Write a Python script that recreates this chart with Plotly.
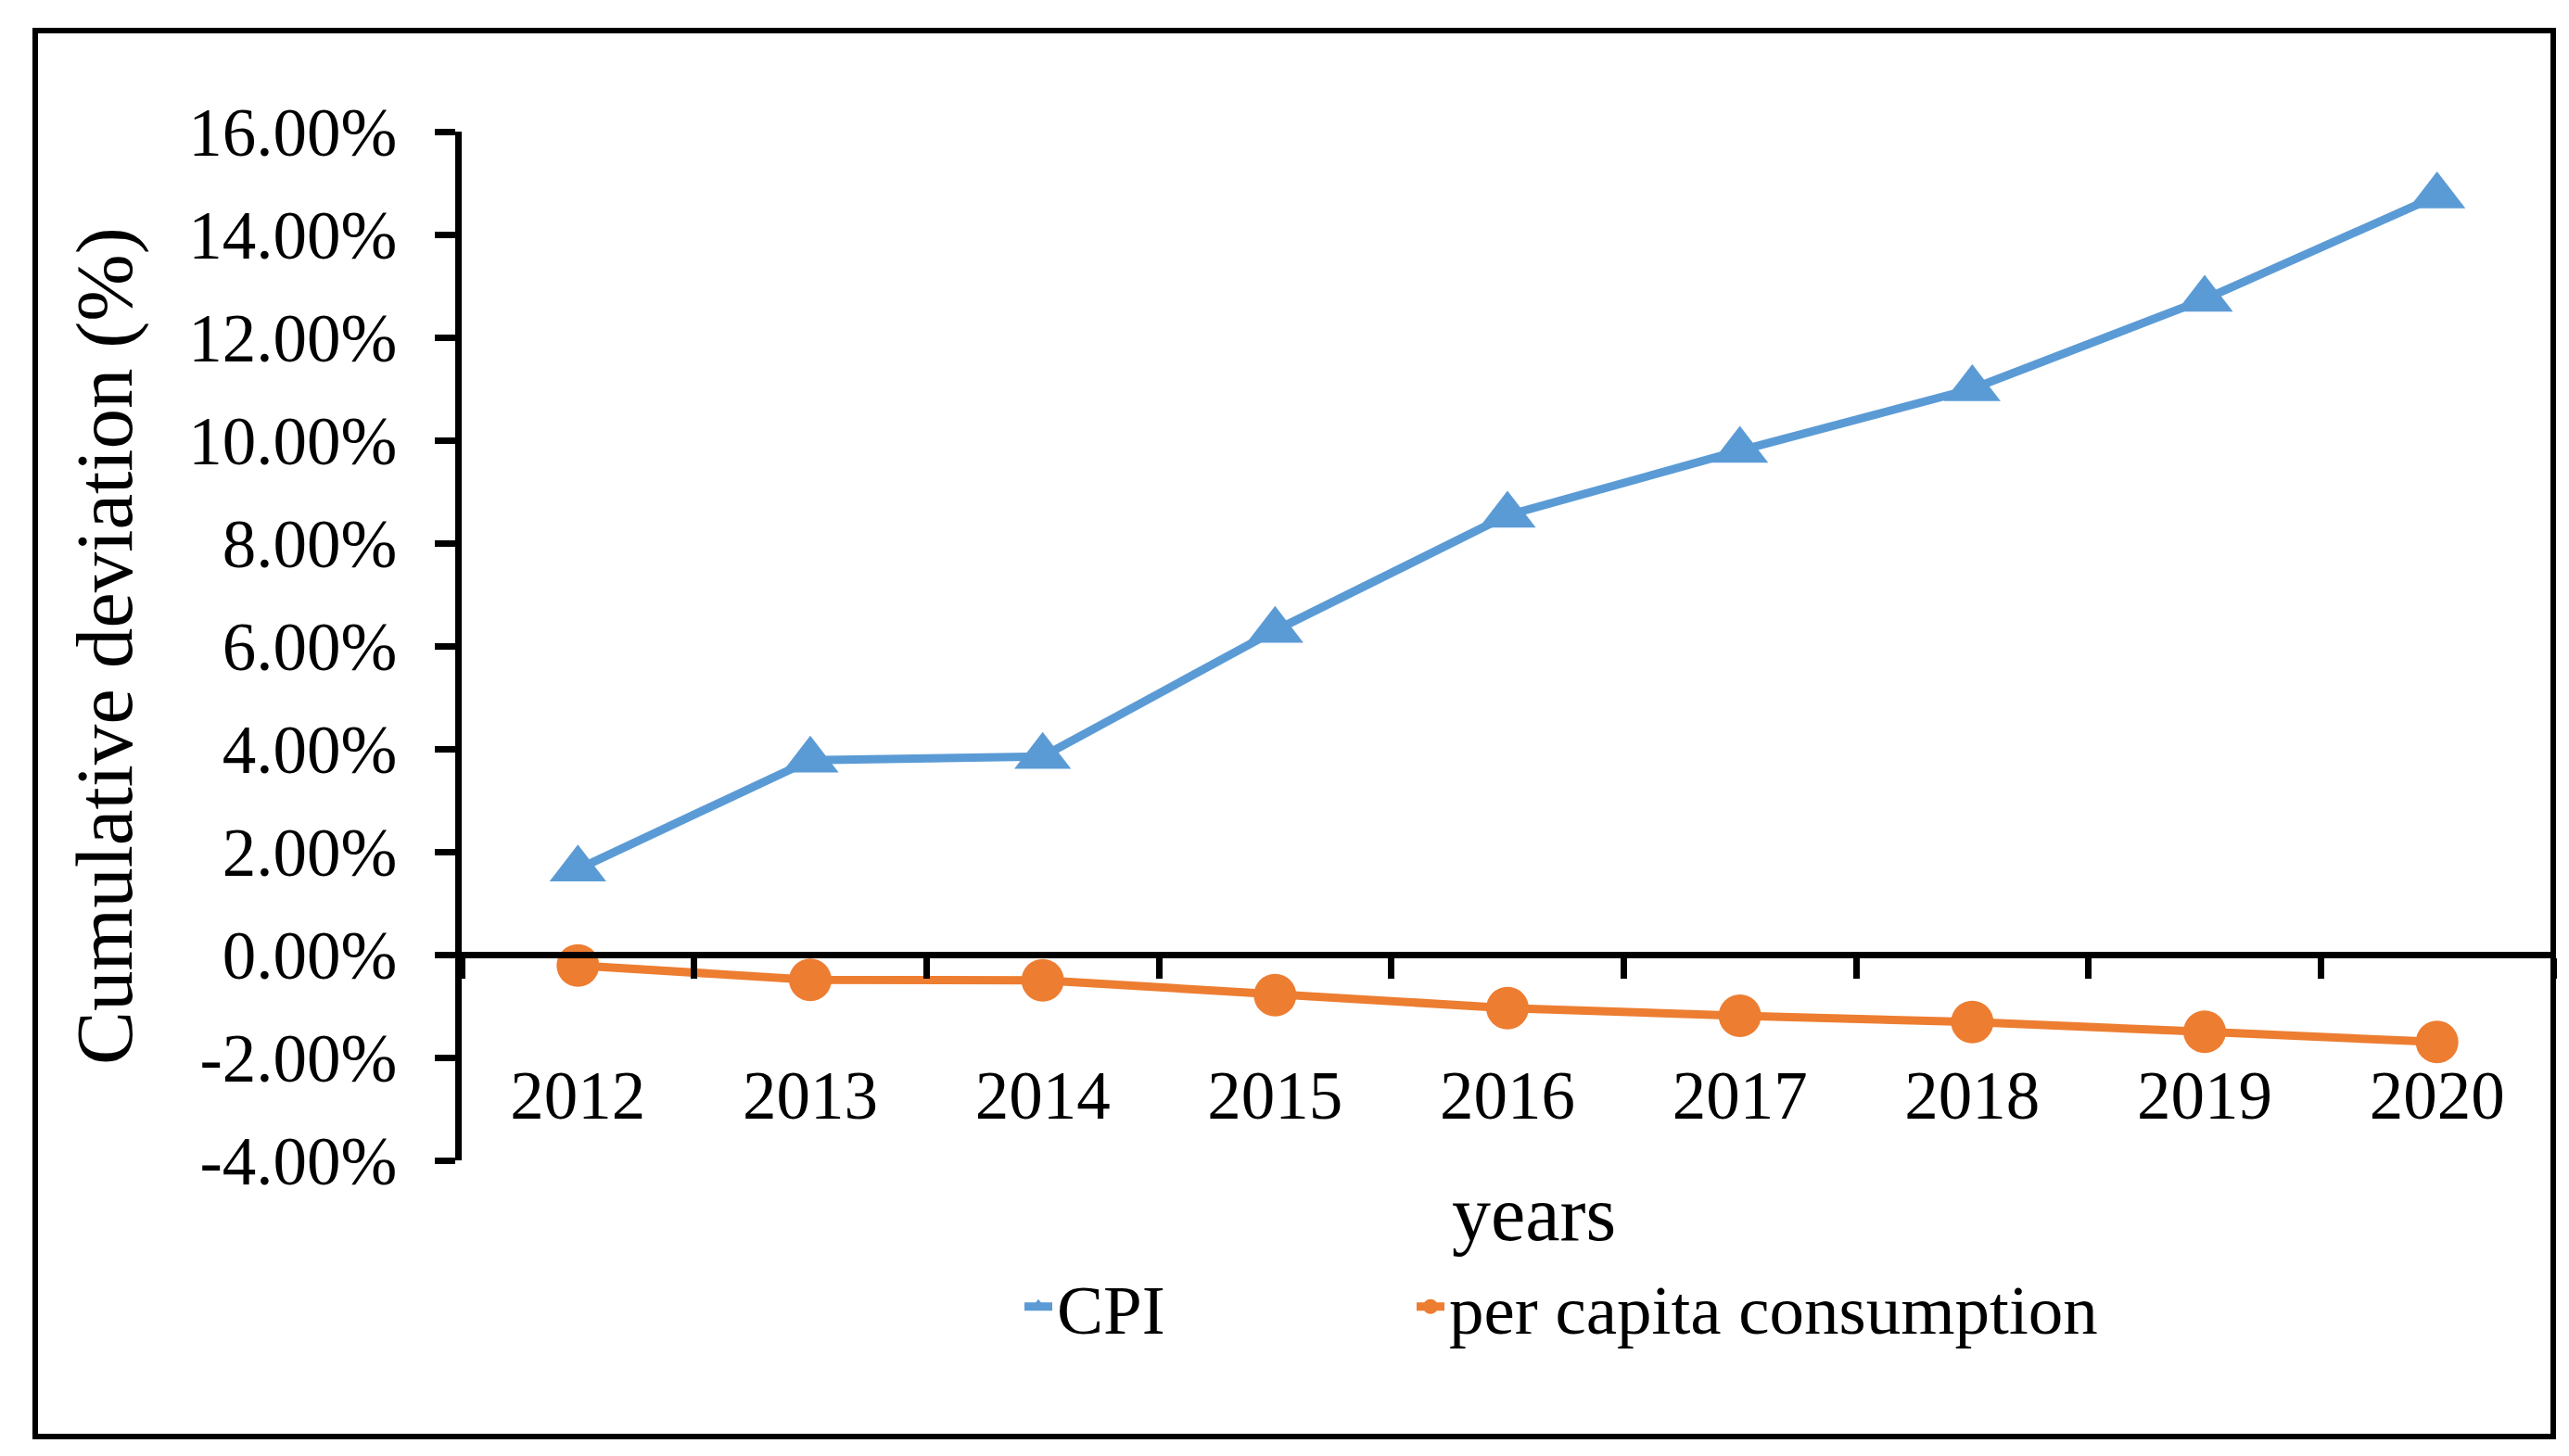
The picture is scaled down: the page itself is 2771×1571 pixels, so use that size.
import plotly.graph_objects as go

years = ["2012", "2013", "2014", "2015", "2016", "2017", "2018", "2019", "2020"]
cpi = [1.66, 3.78, 3.85, 6.30, 8.54, 9.80, 11.00, 12.74, 14.75]
per_capita = [-0.21, -0.49, -0.50, -0.79, -1.04, -1.19, -1.31, -1.50, -1.70]
y_tickvals = [-4, -2, 0, 2, 4, 6, 8, 10, 12, 14, 16]
y_ticktext = ["-4.00%", "-2.00%", "0.00%", "2.00%", "4.00%", "6.00%", "8.00%",
              "10.00%", "12.00%", "14.00%", "16.00%"]

FONT = "Liberation Serif"
BLUE = "#5B9BD5"
ORANGE = "#ED7D31"

W, H = 2771, 1571
L, R, T, B = 490, 25, 134, 327
pw, ph = W - L - R, H - T - B

def px_x(x):
    return (x - L) / pw

def px_y(y):
    return (H - B - y) / ph

fig = go.Figure()
fig.add_trace(go.Scatter(
    x=years, y=cpi, name="CPI", mode="lines+markers",
    line=dict(color=BLUE, width=9),
    marker=dict(symbol="triangle-up", size=53, color=BLUE),
    legend="legend",
))
fig.add_trace(go.Scatter(
    x=years, y=per_capita, name="per capita consumption", mode="lines+markers",
    line=dict(color=ORANGE, width=9),
    marker=dict(symbol="circle", size=46, color=ORANGE),
    legend="legend2",
))

legend_style = dict(
    orientation="h", yanchor="middle", xanchor="left",
    font=dict(family=FONT, size=75, color="black"),
    bgcolor="rgba(0,0,0,0)",
)

fig.update_layout(
    width=W, height=H,
    margin=dict(l=L, r=R, t=T, b=B, autoexpand=False),
    paper_bgcolor="white", plot_bgcolor="white",
    font=dict(family=FONT, size=73, color="black"),
    showlegend=True,
    legend=dict(legend_style, x=px_x(1092), y=px_y(1402)),
    legend2=dict(legend_style, x=px_x(1515), y=px_y(1402)),
    xaxis=dict(
        type="category", range=[-0.5, 8.5], anchor="free", position=px_y(1022),
        showline=True, linecolor="black", linewidth=7,
        ticks="outside", ticklen=22, tickwidth=7, tickcolor="black",
        tickson="boundaries", showgrid=False, zeroline=False,
        tickfont=dict(family=FONT, size=73, color="black"),
        ticklabelstandoff=85,
    ),
    yaxis=dict(
        range=[-4, 16], tickvals=y_tickvals, ticktext=y_ticktext,
        showline=True, linecolor="black", linewidth=7,
        ticks="outside", ticklen=22, tickwidth=7, tickcolor="black",
        showgrid=False, zeroline=False,
        tickfont=dict(family=FONT, size=73, color="black"),
        ticklabelstandoff=26,
    ),
    annotations=[
        dict(text="years", xref="paper", yref="paper", x=px_x(1646), y=px_y(1301),
             xanchor="center", yanchor="middle", showarrow=False,
             font=dict(family=FONT, size=84, color="black")),
        dict(text="Cumulative deviation (%)", xref="paper", yref="paper",
             x=px_x(104), y=px_y(689), textangle=-90,
             xanchor="center", yanchor="middle", showarrow=False,
             font=dict(family=FONT, size=87, color="black")),
    ],
    shapes=[
        dict(type="rect", xref="paper", yref="paper",
             x0=px_x(30), x1=px_x(2746), y0=px_y(1542), y1=px_y(25),
             line=dict(color="black", width=6), fillcolor="rgba(0,0,0,0)", layer="above"),
    ],
)

fig.write_html("out.html")
